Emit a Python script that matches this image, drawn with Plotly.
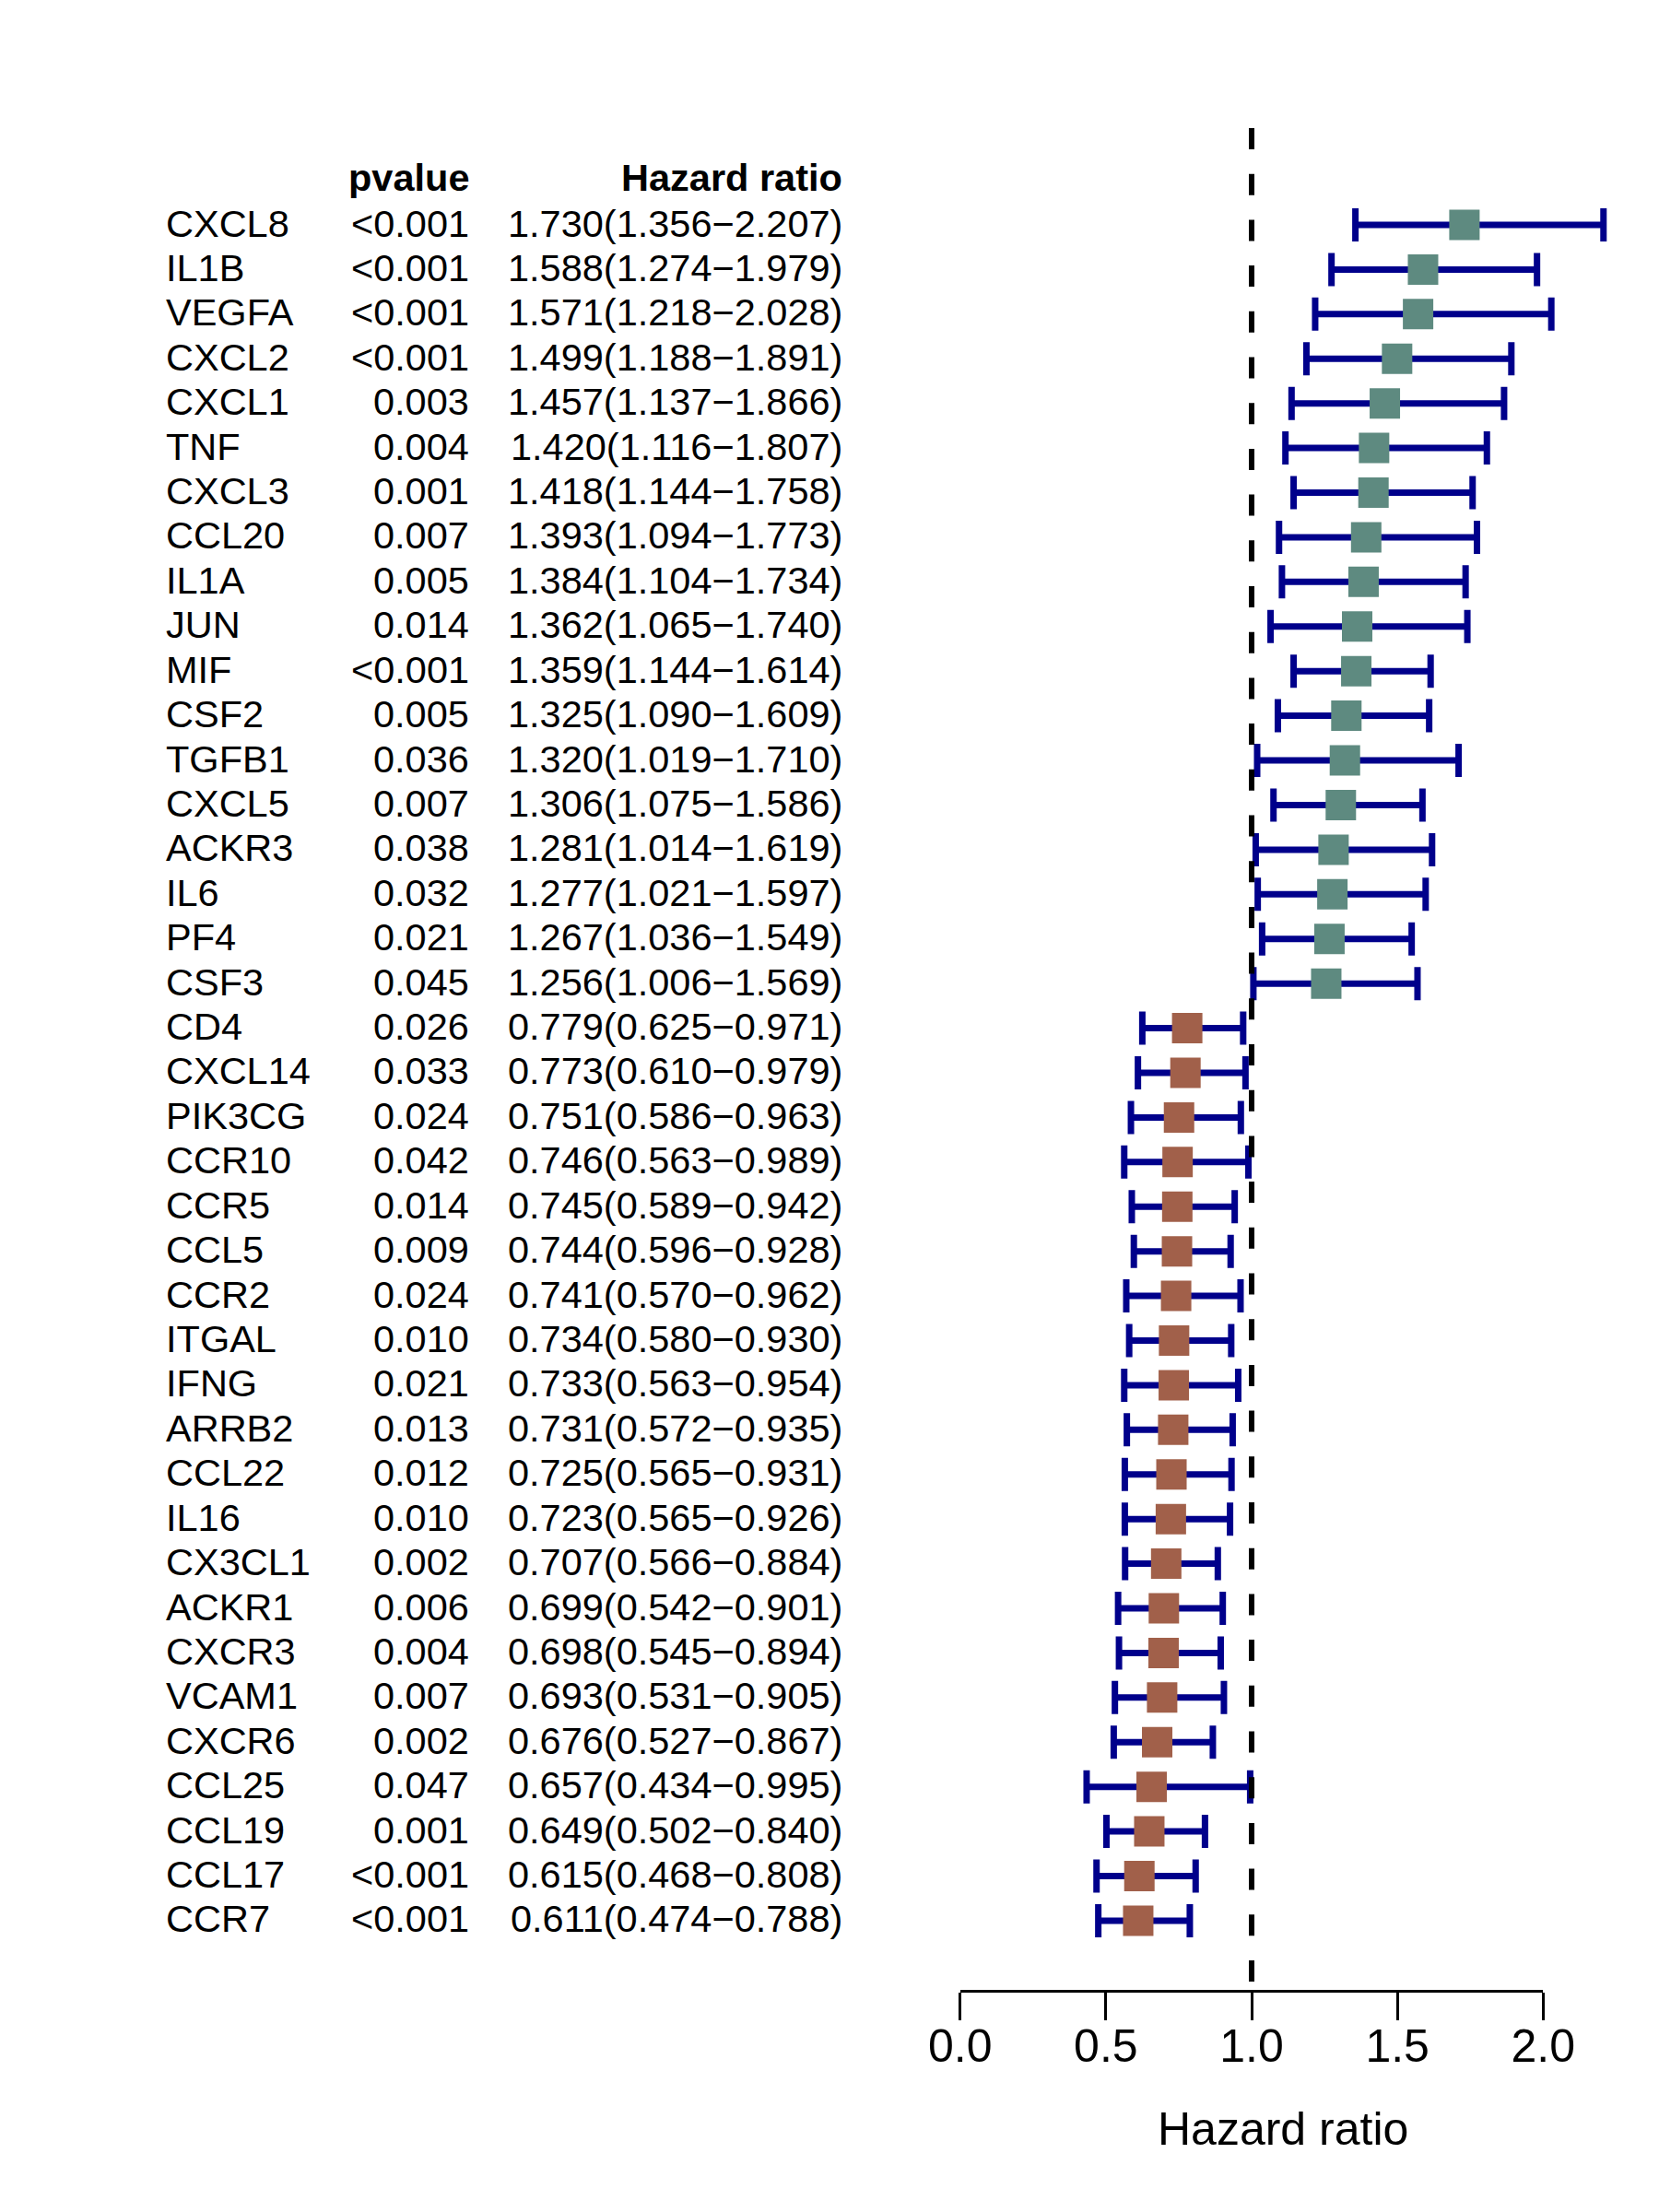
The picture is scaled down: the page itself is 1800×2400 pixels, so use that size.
import plotly.graph_objects as go

# forest plot of univariate cox results
genes = ['CXCL8', 'IL1B', 'VEGFA', 'CXCL2', 'CXCL1', 'TNF', 'CXCL3', 'CCL20', 'IL1A', 'JUN',
         'MIF', 'CSF2', 'TGFB1', 'CXCL5', 'ACKR3', 'IL6', 'PF4', 'CSF3', 'CD4', 'CXCL14',
         'PIK3CG', 'CCR10', 'CCR5', 'CCL5', 'CCR2', 'ITGAL', 'IFNG', 'ARRB2', 'CCL22', 'IL16',
         'CX3CL1', 'ACKR1', 'CXCR3', 'VCAM1', 'CXCR6', 'CCL25', 'CCL19', 'CCL17', 'CCR7']
pvalues = ['<0.001', '<0.001', '<0.001', '<0.001', '0.003', '0.004', '0.001', '0.007', '0.005', '0.014',
           '<0.001', '0.005', '0.036', '0.007', '0.038', '0.032', '0.021', '0.045', '0.026', '0.033',
           '0.024', '0.042', '0.014', '0.009', '0.024', '0.010', '0.021', '0.013', '0.012', '0.010',
           '0.002', '0.006', '0.004', '0.007', '0.002', '0.047', '0.001', '<0.001', '<0.001']
hr = [1.730, 1.588, 1.571, 1.499, 1.457, 1.420, 1.418, 1.393, 1.384, 1.362,
      1.359, 1.325, 1.320, 1.306, 1.281, 1.277, 1.267, 1.256, 0.779, 0.773,
      0.751, 0.746, 0.745, 0.744, 0.741, 0.734, 0.733, 0.731, 0.725, 0.723,
      0.707, 0.699, 0.698, 0.693, 0.676, 0.657, 0.649, 0.615, 0.611]
hr_low = [1.356, 1.274, 1.218, 1.188, 1.137, 1.116, 1.144, 1.094, 1.104, 1.065,
          1.144, 1.090, 1.019, 1.075, 1.014, 1.021, 1.036, 1.006, 0.625, 0.610,
          0.586, 0.563, 0.589, 0.596, 0.570, 0.580, 0.563, 0.572, 0.565, 0.565,
          0.566, 0.542, 0.545, 0.531, 0.527, 0.434, 0.502, 0.468, 0.474]
hr_high = [2.207, 1.979, 2.028, 1.891, 1.866, 1.807, 1.758, 1.773, 1.734, 1.740,
           1.614, 1.609, 1.710, 1.586, 1.619, 1.597, 1.549, 1.569, 0.971, 0.979,
           0.963, 0.989, 0.942, 0.928, 0.962, 0.930, 0.954, 0.935, 0.931, 0.926,
           0.884, 0.901, 0.894, 0.905, 0.867, 0.995, 0.840, 0.808, 0.788]
x_ticks = [0.0, 0.5, 1.0, 1.5, 2.0]

font = 'Liberation Sans, Arial, sans-serif'
W, H = 1800, 2400
n = len(genes)
rows = [-i for i in range(n)]  # top row = 0, going down

#pixel geometry
x0_px, px_per_unit = 1041.7, 316.3
row0_px, row_px = 244.0, 48.42
axis_px = 2160

colors = ['#5E8A80' if h > 1 else '#A1604A' for h in hr]
hr_text = [f'{h:.3f}({l:.3f}\u2212{u:.3f})' for h, l, u in zip(hr, hr_low, hr_high)]

fig = go.Figure()
fig.add_trace(go.Scatter(
    x=hr, y=rows, mode='markers',
    marker=dict(symbol='square', size=33, color=colors),
    error_x=dict(type='data', symmetric=False,
                 array=[u - h for h, u in zip(hr, hr_high)],
                 arrayminus=[h - l for h, l in zip(hr, hr_low)],
                 color='#00008B', thickness=7, width=18),
    showlegend=False, hoverinfo='skip', cliponaxis=False))

#dummy trace so the visible bottom axis gets drawn
fig.add_trace(go.Scatter(x=x_ticks, y=[rows[-1]] * len(x_ticks), xaxis='x2', yaxis='y',
                         mode='markers', marker=dict(opacity=0), showlegend=False, hoverinfo='skip'))

annotations = []
for i, (g, p, t) in enumerate(zip(genes, pvalues, hr_text)):
    annotations.append(dict(x=178 / W, xref='paper', y=rows[i], yref='y', text=g,
                            xanchor='left', yanchor='middle', showarrow=False, yshift=2))
    annotations.append(dict(x=511 / W, xref='paper', y=rows[i], yref='y', text=p,
                            xanchor='right', yanchor='middle', showarrow=False, yshift=2))
    annotations.append(dict(x=916 / W, xref='paper', y=rows[i], yref='y', text=t,
                            xanchor='right', yanchor='middle', showarrow=False, yshift=2))
#column headers
annotations.append(dict(x=511 / W, xref='paper', y=1, yref='y', text='<b>pvalue</b>',
                        xanchor='right', yanchor='middle', showarrow=False, yshift=3))
annotations.append(dict(x=916 / W, xref='paper', y=1, yref='y', text='<b>Hazard ratio</b>',
                        xanchor='right', yanchor='middle', showarrow=False, yshift=3))
#x axis title
annotations.append(dict(x=1392 / W, xref='paper', y=1 - 2309.5 / H, yref='paper',
                        text='Hazard ratio', xanchor='center', yanchor='middle',
                        showarrow=False, font=dict(size=50)))

fig.update_layout(
    width=W, height=H, autosize=False,
    margin=dict(l=0, r=0, t=0, b=0, pad=0, autoexpand=False),
    paper_bgcolor='white', plot_bgcolor='rgba(0,0,0,0)',
    font=dict(family=font, size=41.5, color='black'),
    annotations=annotations,
    xaxis=dict(domain=[0.5, 1.0], visible=False, automargin=False,
               range=[(900 - x0_px) / px_per_unit, (W - x0_px) / px_per_unit]),
    yaxis=dict(domain=[0, 1], visible=False, automargin=False,
               range=[-(H - row0_px) / row_px, row0_px / row_px]),
    xaxis2=dict(domain=[x0_px / W, (x0_px + 2 * px_per_unit) / W], range=[0, 2],
                anchor='free', position=1 - axis_px / H, automargin=False,
                tickvals=x_ticks, tickformat='.1f',
                showline=True, linewidth=3, linecolor='black',
                ticks='outside', ticklen=30, tickwidth=3, tickcolor='black',
                ticklabelstandoff=-15,
                showgrid=False, zeroline=False,
                tickfont=dict(size=50, family=font, color='black')),
    shapes=[dict(type='line', xref='x', yref='paper', x0=1, x1=1,
                 y0=1 - 139 / H, y1=1 - axis_px / H,
                 line=dict(color='black', width=6, dash='23px,26.7px'))],
)

#page body has a default 8px margin; drop it so the figure sits at the page corner
fig.write_html('out.html', config={'displayModeBar': False},
               post_script="document.body.style.margin = '0px';")
